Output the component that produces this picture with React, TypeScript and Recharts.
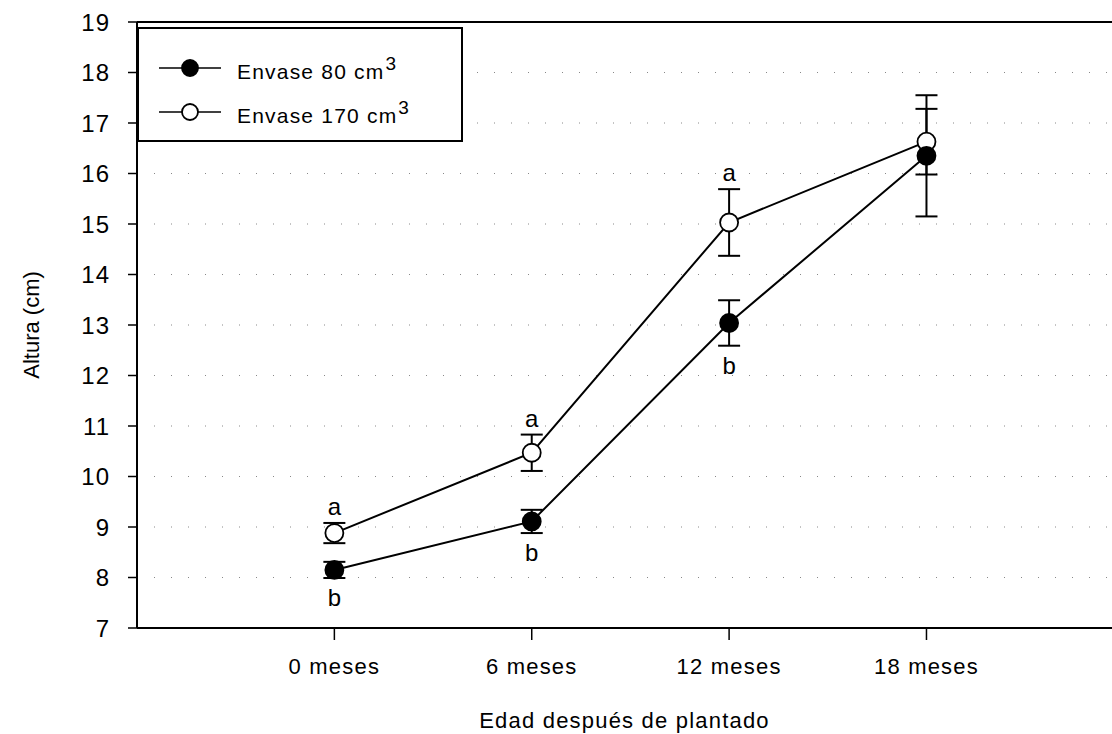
import { LineChart, Line, XAxis, YAxis, CartesianGrid, ErrorBar, ReferenceLine, LabelList } from 'recharts';

const months = ['0 meses', '6 meses', '12 meses', '18 meses'];
const env80 = [8.15, 9.11, 13.04, 16.35];
const env80Err = [0.16, 0.23, 0.45, 1.2];
const env80Letters = ['b', 'b', 'b', ''];
const env170 = [8.88, 10.47, 15.03, 16.63];
const env170Err = [0.2, 0.36, 0.66, 0.65];
const env170Letters = ['a', 'a', 'a', ''];
const yTicks = [7, 8, 9, 10, 11, 12, 13, 14, 15, 16, 17, 18, 19];

const W = 1112;
const H = 734;
const TOP = 22;
const LEFT = 137;
const X_AXIS_H = 106;
const PX_PER_UNIT = (H - TOP - X_AXIS_H) / 12;
const FONT = '"Liberation Sans", Arial, sans-serif';

const data = months.map((m, i) => ({
  i,
  env80: env80[i],
  env80Err: env80Err[i],
  env80Letter: env80Letters[i],
  env170: env170[i],
  env170Err: env170Err[i],
  env170Letter: env170Letters[i],
}));

const letterBelow = (props: any) => {
  const { x, y, value, index } = props;
  if (!value) return null;
  const dy = env80Err[index] * PX_PER_UNIT + 28;
  return (
    <text x={x} y={y + dy} textAnchor="middle" fontSize={24} fontFamily={FONT} fill="#000">
      {value}
    </text>
  );
};

const letterAbove = (props: any) => {
  const { x, y, value, index } = props;
  if (!value) return null;
  const dy = env170Err[index] * PX_PER_UNIT + 8;
  return (
    <text x={x} y={y - dy} textAnchor="middle" fontSize={24} fontFamily={FONT} fill="#000">
      {value}
    </text>
  );
};

const LegendBox = () => (
  <div
    style={{
      position: 'absolute',
      left: LEFT,
      top: 27,
      width: 326,
      height: 115,
      border: '2px solid #000',
      background: '#fff',
      boxSizing: 'border-box',
      fontFamily: FONT,
      fontSize: 21,
      color: '#000',
    }}
  >
    {[
      { fill: '#000', label: 'Envase 80 cm' },
      { fill: '#fff', label: 'Envase 170 cm' },
    ].map((e, k) => (
      <div key={k} style={{ position: 'absolute', left: 18, top: 24 + k * 44, display: 'flex', alignItems: 'center' }}>
        <svg width={66} height={22}>
          <line x1={2} y1={11} x2={64} y2={11} stroke="#000" strokeWidth={1.5} />
          <circle cx={33} cy={11} r={8} fill={e.fill} stroke="#000" strokeWidth={1.8} />
        </svg>
        <span style={{ marginLeft: 14, letterSpacing: 1.2, lineHeight: '22px' }}>
          {e.label}
          <sup style={{ fontSize: 19, marginLeft: 1, verticalAlign: 9 }}>3</sup>
        </span>
      </div>
    ))}
  </div>
);

export default function App() {
  return (
    <div style={{ position: 'absolute', left: 0, top: 0, width: W, height: H, background: '#fff' }}>
      <LineChart width={W} height={H} data={data} margin={{ top: TOP, right: 0, left: 0, bottom: 0 }}>
        <CartesianGrid vertical={false} stroke="#888" strokeDasharray="1 16" />
        <XAxis
          dataKey="i"
          type="number"
          domain={[-1, 3.94]}
          ticks={[0, 1, 2, 3]}
          tickFormatter={(v: number) => months[v]}
          height={X_AXIS_H}
          axisLine={{ stroke: '#000', strokeWidth: 2 }}
          tickLine={{ stroke: '#000', strokeWidth: 1.5 }}
          tickSize={12}
          tick={{ fill: '#000', fontSize: 22, fontFamily: FONT, letterSpacing: 1.2, dy: 16 }}
          label={{
            value: 'Edad después de plantado',
            position: 'insideBottom',
            offset: 6,
            fill: '#000',
            fontSize: 22,
            fontFamily: FONT,
            letterSpacing: 1.2,
          }}
        />
        <YAxis
          type="number"
          domain={[7, 19]}
          ticks={yTicks}
          width={LEFT}
          axisLine={{ stroke: '#000', strokeWidth: 2 }}
          tickLine={{ stroke: '#000', strokeWidth: 1.5 }}
          tickSize={9}
          tick={{ fill: '#000', fontSize: 24, fontFamily: FONT, letterSpacing: 1, dx: -16 }}
          label={{
            value: 'Altura (cm)',
            angle: -90,
            position: 'insideLeft',
            offset: 31,
            fill: '#000',
            fontSize: 22,
            fontFamily: FONT,
            textAnchor: 'middle',
          }}
        />
        <ReferenceLine y={19} stroke="#000" strokeWidth={2} />
        <Line
          dataKey="env170"
          stroke="#000"
          strokeWidth={2}
          dot={{ r: 9, fill: '#fff', stroke: '#000', strokeWidth: 1.8 }}
          isAnimationActive={false}
        >
          <ErrorBar dataKey="env170Err" direction="y" width={11} stroke="#000" strokeWidth={2} />
          <LabelList dataKey="env170Letter" content={letterAbove} />
        </Line>
        <Line
          dataKey="env80"
          stroke="#000"
          strokeWidth={2}
          dot={{ r: 9, fill: '#000', stroke: '#000', strokeWidth: 1.8 }}
          isAnimationActive={false}
        >
          <ErrorBar dataKey="env80Err" direction="y" width={11} stroke="#000" strokeWidth={2} />
          <LabelList dataKey="env80Letter" content={letterBelow} />
        </Line>
      </LineChart>
      <LegendBox />
    </div>
  );
}
